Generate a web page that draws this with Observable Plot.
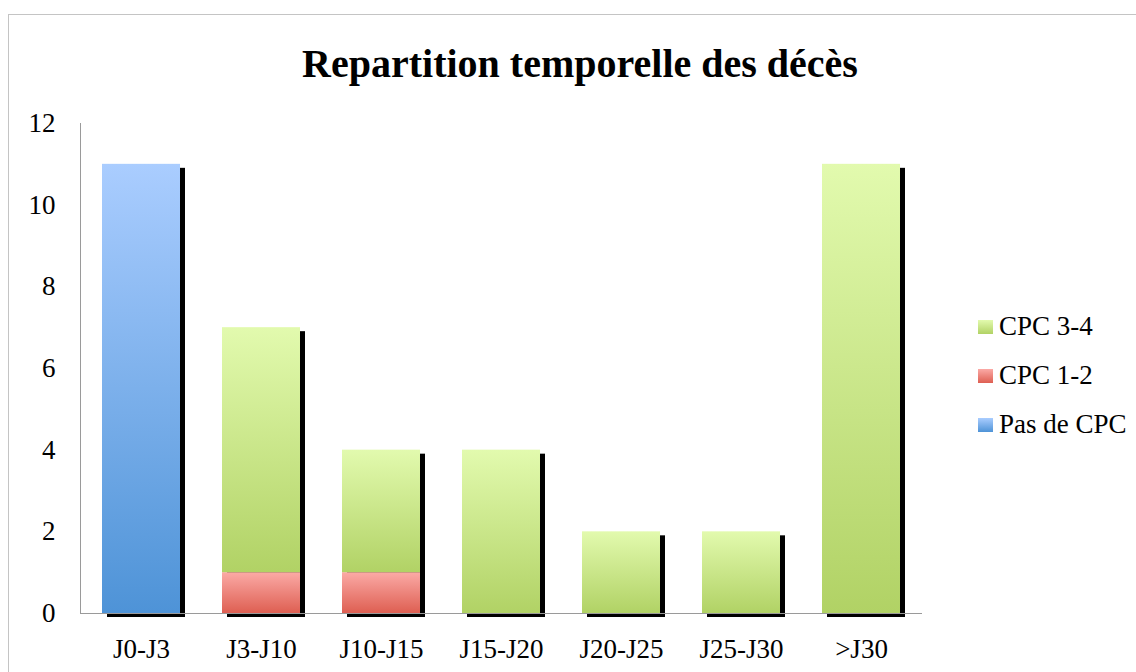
<!DOCTYPE html>
<html>
<head>
<meta charset="utf-8">
<script src="https://cdn.jsdelivr.net/npm/d3@7"></script>
<script src="https://cdn.jsdelivr.net/npm/@observablehq/plot@0.6"></script>
<style>
  html, body { margin: 0; padding: 0; background: #fff; }
  #wrap { position: relative; width: 1136px; height: 672px; overflow: hidden; font-family: "Liberation Serif", serif; }
  #border { position: absolute; left: 8px; top: 14px; width: 1200px; height: 700px; border-left: 1px solid #c4c4c4; border-top: 1px solid #c4c4c4; }
  #title { position: absolute; left: 230px; width: 700px; top: 44px; text-align: center; font-size: 40px; line-height: 40px; font-weight: bold; color: #000; }
  #chart { position: absolute; left: 0; top: 0; }
  #legend { position: absolute; left: 978px; top: 302px; }
  .row { display: flex; align-items: center; height: 49px; font-size: 27px; color: #000; }
  .sw { width: 15px; height: 14px; margin-right: 6px; }
</style>
</head>
<body>
<div id="wrap">
  <div id="border"></div>
  <div id="chart"></div>
  <div id="title">Repartition temporelle des décès</div>
  <div id="legend"></div>
</div>
<script>
const categories = ["J0-J3", "J3-J10", "J10-J15", "J15-J20", "J20-J25", "J25-J30", ">J30"];
const seriesNames = ["Pas de CPC", "CPC 1-2", "CPC 3-4"];
const pasDeCPC = [11, 0, 0, 0, 0, 0, 0];
const cpc12   = [0, 1, 1, 0, 0, 0, 0];
const cpc34   = [0, 6, 3, 4, 2, 2, 11];
const yTicks  = [0, 2, 4, 6, 8, 10, 12];
const legendOrder = ["CPC 3-4", "CPC 1-2", "Pas de CPC"];

const gradients = {
  "Pas de CPC": ["gBlue", "#aacdff", "#4e93d7"],
  "CPC 1-2": ["gRed", "#fbaaa6", "#de5f52"],
  "CPC 3-4": ["gGreen", "#e2faae", "#b1d265"]
};

const seriesValues = [pasDeCPC, cpc12, cpc34];
const data = [];
categories.forEach((c, i) => {
  seriesNames.forEach((s, j) => data.push({cat: c, series: s, value: seriesValues[j][i]}));
});

const chart = Plot.plot({
  width: 1136,
  height: 672,
  marginLeft: 80,
  marginRight: 214,
  marginTop: 123,
  marginBottom: 59,
  style: {background: "transparent", fontFamily: "Liberation Serif, serif", fontSize: "27px", color: "#000", overflow: "visible"},
  x: {domain: categories, paddingInner: 0.35, paddingOuter: 0.18, label: null},
  y: {domain: [0, 12], label: null},
  color: {domain: seriesNames, range: seriesNames.map(s => `url(#${gradients[s][0]})`)},
  marks: [
    Plot.barY(data, Plot.groupX({y: "sum"}, {x: "cat", y: "value", dx: 5, dy: 4, fill: "#000", inset: 0})),
    Plot.barY(data, Plot.stackY({x: "cat", y: "value", fill: "series", inset: 0})),
    Plot.frame({anchor: "left", stroke: "#9a9a9a"}),
    Plot.ruleY([0], {stroke: "#9a9a9a"}),
    Plot.axisY({ticks: yTicks, tickSize: 0, tickPadding: 25, label: null, fontSize: 27}),
    Plot.axisX({tickSize: 0, tickPadding: 25, label: null, fontSize: 27})
  ]
});

const defs = d3.select(chart).insert("defs", ":first-child");
seriesNames.forEach(s => {
  const [id, c1, c2] = gradients[s];
  const g = defs.append("linearGradient").attr("id", id).attr("x1", 0).attr("y1", 0).attr("x2", 0).attr("y2", 1);
  g.append("stop").attr("offset", "0%").attr("stop-color", c1);
  g.append("stop").attr("offset", "100%").attr("stop-color", c2);
});
document.getElementById("chart").appendChild(chart);

const legend = d3.select("#legend");
legendOrder.forEach(s => {
  const [id, c1, c2] = gradients[s];
  const row = legend.append("div").attr("class", "row");
  row.append("div").attr("class", "sw").style("background", `linear-gradient(${c1}, ${c2})`);
  row.append("span").text(s);
});
</script>
</body>
</html>
